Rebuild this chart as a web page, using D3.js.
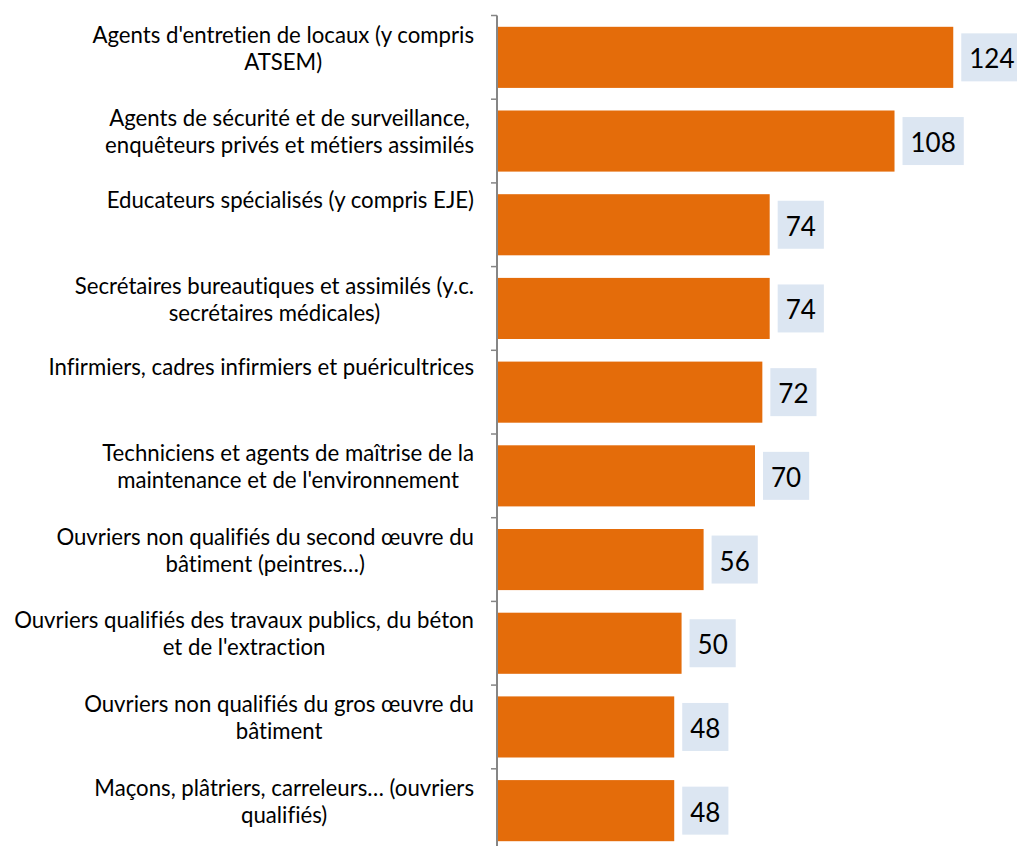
<!DOCTYPE html>
<html>
<head>
<meta charset="utf-8">
<script src="https://cdn.jsdelivr.net/npm/d3@7"></script>
<style>
  html, body { margin: 0; padding: 0; background: #fff; }
  svg { display: block; }
  text { font-family: Lato, "Noto Sans", sans-serif; fill: #000; font-variant-ligatures: none; }
</style>
</head>
<body>
<svg id="chart" width="1017" height="846"></svg>
<script>
// Category labels (already split into display lines)
const categories = [
  ["Agents d'entretien de locaux (y compris", "ATSEM)"],
  ["Agents de sécurité et de surveillance,", "enquêteurs privés et métiers assimilés"],
  ["Educateurs spécialisés (y compris EJE)"],
  ["Secrétaires bureautiques et assimilés (y.c.", "secrétaires médicales)"],
  ["Infirmiers, cadres infirmiers et puéricultrices"],
  ["Techniciens et agents de maîtrise de la", "maintenance et de l'environnement"],
  ["Ouvriers non qualifiés du second œuvre du", "bâtiment (peintres…)"],
  ["Ouvriers qualifiés des travaux publics, du béton", "et de l'extraction"],
  ["Ouvriers non qualifiés du gros œuvre du", "bâtiment"],
  ["Maçons, plâtriers, carreleurs… (ouvriers", "qualifiés)"]
];
const values = [124, 108, 74, 74, 72, 70, 56, 50, 48, 48];

const svg = d3.select("#chart");
const axisX = 497;
const labelRight = 474;

const x = d3.scaleLinear().domain([0, 140]).range([axisX + 1, axisX + 1 + 514]);
const y = d3.scaleBand()
  .domain(d3.range(categories.length))
  .range([15.5, 15.5 + 83.7 * categories.length])
  .paddingInner(0.27)
  .paddingOuter(0.135);

// bars
svg.append("g").selectAll("rect")
  .data(values)
  .join("rect")
  .attr("x", x(0))
  .attr("y", (d, i) => y(i))
  .attr("width", d => x(d) - x(0))
  .attr("height", y.bandwidth())
  .attr("fill", "#E46C0A");

// category axis: line plus ticks between categories
const step = y.step();
const bandStart = i => y(i) - y.paddingOuter() * step;
const axisG = svg.append("g");
axisG.append("line")
  .attr("x1", axisX).attr("x2", axisX)
  .attr("y1", bandStart(0)).attr("y2", bandStart(0) + step * categories.length)
  .attr("stroke", "#868686").attr("stroke-width", 2);
axisG.selectAll("line.tick")
  .data(d3.range(categories.length + 1))
  .join("line")
  .attr("class", "tick")
  .attr("x1", axisX - 6).attr("x2", axisX)
  .attr("y1", i => bandStart(0) + i * step)
  .attr("y2", i => bandStart(0) + i * step)
  .attr("stroke", "#868686").attr("stroke-width", 1.5);

// category labels: lines centred within a right-aligned block
const labelG = svg.append("g").attr("font-size", "22.2px");
categories.forEach((lines, i) => {
  const g = labelG.append("g");
  const texts = g.selectAll("text")
    .data(lines)
    .join("text")
    .attr("text-anchor", "middle")
    .text(d => d);
  const maxW = d3.max(texts.nodes(), n => n.getComputedTextLength());
  const first = bandStart(i) + (lines.length > 1 ? 27 : 25);
  texts.attr("x", labelRight - maxW / 2)
    .attr("y", (d, k) => first + k * 27);
});

// value labels in shaded boxes
const valG = svg.append("g");
values.forEach((v, i) => {
  const g = valG.append("g");
  const cy = y(i) + y.bandwidth() / 2;
  const t = g.append("text")
    .attr("font-size", "26px")
    .attr("dominant-baseline", "central")
    .attr("y", cy + 1)
    .text(v);
  const w = t.node().getComputedTextLength();
  const pad = 8;
  const bx = x(v) + 8;
  g.insert("rect", "text")
    .attr("x", bx).attr("y", cy - 24)
    .attr("width", w + 2 * pad).attr("height", 48)
    .attr("fill", "#DCE6F2");
  t.attr("x", bx + pad);
});
</script>
</body>
</html>
